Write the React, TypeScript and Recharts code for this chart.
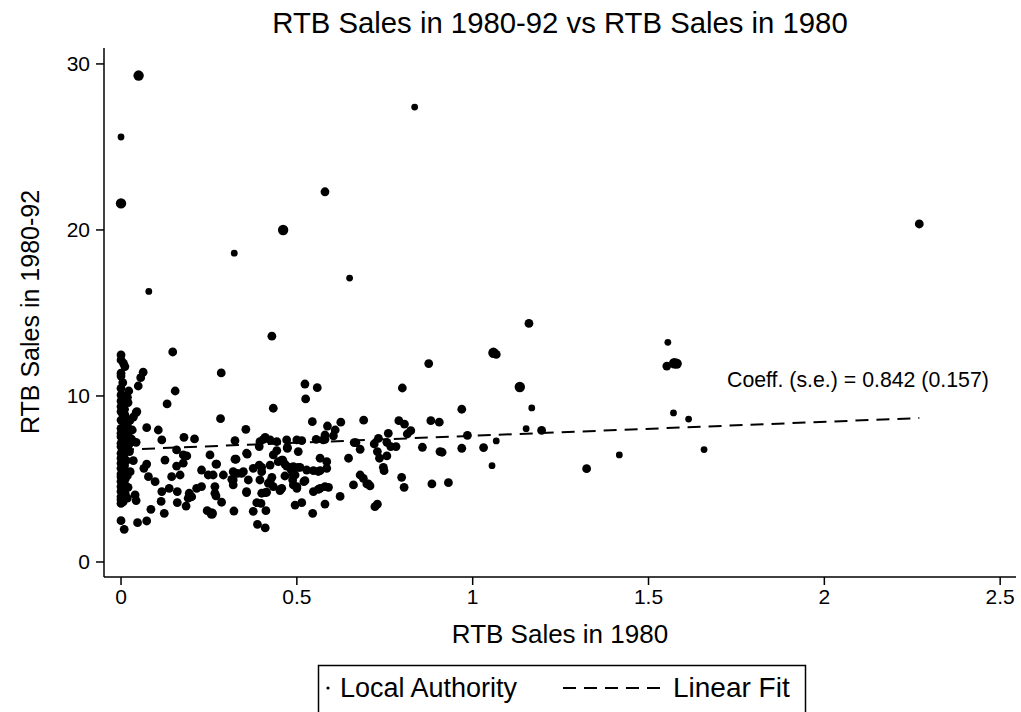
import React from 'react';
import { ScatterChart, Scatter, XAxis, YAxis } from 'recharts';

// [RTB sales 1980, RTB sales 1980-92, marker weight]
type Row = [number, number, number];

const zeroColumn: Row[] = [
  [0.05, 29.3, 3], [0, 25.6, 1], [0, 21.6, 3],
  [0, 12.47, 2], [0, 12.17, 2], [0.007, 11.97, 2], [0.011, 11.77, 2], [0, 11.37, 2],
  [0, 11.2, 2], [0, 10.46, 2], [0, 10.06, 2], [0.011, 10.0, 2], [0.016, 9.92, 3],
  [0, 9.7, 2], [0.005, 9.5, 2], [0, 9.36, 2], [0.01, 9.2, 2], [0, 9.06, 2],
  [0.045, 9.06, 2], [0.011, 8.86, 2], [0.043, 9.0, 2], [0.035, 8.72, 2], [0.026, 8.55, 2],
  [0, 8.55, 2], [0.008, 8.4, 2], [0.018, 8.25, 2], [0, 8.05, 2], [0.032, 7.95, 2],
  [0.012, 7.9, 2], [0, 7.75, 2], [0.02, 7.65, 2], [0, 7.55, 2], [0.011, 7.35, 2],
  [0.03, 7.4, 2], [0.043, 7.21, 2], [0, 7.15, 2], [0.022, 7.05, 2], [0, 6.95, 2],
  [0.012, 6.8, 2], [0.024, 6.65, 2], [0, 6.55, 2], [0.008, 6.4, 2], [0, 6.25, 2],
  [0.035, 6.1, 2], [0.015, 6.1, 2], [0, 5.95, 2], [0.01, 5.8, 2], [0, 5.64, 2],
  [0.026, 5.44, 2], [0.008, 5.5, 2], [0, 5.3, 2], [0, 5.14, 2], [0.012, 5.0, 2],
  [0, 4.85, 2], [0.01, 4.7, 2], [0, 4.54, 2], [0.008, 4.4, 2], [0, 4.25, 2],
  [0.012, 4.1, 2], [0, 3.93, 2], [0.04, 4.04, 2], [0.043, 3.7, 2], [0, 3.75, 2],
  [0, 3.53, 2], [0, 2.49, 2], [0.009, 1.97, 2], [0.047, 2.37, 2], [0.073, 2.47, 2],
  [0.004, 8.95, 2], [0.02, 9.6, 2], [0.004, 7.0, 2], [0.006, 6.0, 2], [0.018, 5.2, 2],
  [0.02, 4.5, 2], [0.006, 3.62, 2], [0.018, 3.85, 2], [0.022, 10.3, 2], [0.005, 10.8, 2],
];

const nearLeft: Row[] = [
  [0.079, 16.3, 1], [0.147, 12.65, 2], [0.063, 11.43, 2], [0.056, 11.1, 2], [0.049, 10.6, 2],
  [0.154, 10.3, 2], [0.131, 9.52, 2], [0.073, 8.09, 2], [0.106, 7.95, 2], [0.179, 7.51, 2],
  [0.209, 7.41, 2], [0.116, 7.35, 2], [0.158, 6.75, 2], [0.187, 6.39, 2], [0.177, 6.45, 2],
  [0.125, 6.14, 2], [0.158, 5.78, 2], [0.177, 5.95, 2], [0.073, 5.9, 2], [0.065, 5.64, 2],
  [0.078, 5.14, 2], [0.097, 4.84, 2], [0.144, 5.14, 2], [0.168, 5.24, 2], [0.229, 5.54, 2],
  [0.253, 6.45, 2], [0.27, 5.9, 2], [0.248, 5.24, 2], [0.291, 5.24, 2], [0.229, 4.54, 2],
  [0.215, 4.44, 2], [0.194, 4.14, 2], [0.201, 3.93, 2], [0.191, 3.84, 2], [0.116, 4.24, 2],
  [0.114, 3.65, 2], [0.137, 4.44, 2], [0.16, 4.24, 2], [0.16, 3.58, 2], [0.185, 3.37, 2],
  [0.085, 3.17, 2], [0.123, 2.93, 2], [0.245, 3.09, 2], [0.258, 2.92, 3], [0.267, 4.54, 2],
  [0.267, 4.14, 2], [0.27, 3.98, 2], [0.286, 3.6, 2], [0.285, 11.39, 2], [0.283, 8.63, 2],
  [0.262, 5.24, 2], [0.272, 5.9, 2],
];

const midCluster: Row[] = [
  [0.322, 18.6, 1], [0.429, 13.6, 2], [0.461, 20.0, 3], [0.58, 22.3, 2], [0.65, 17.1, 1],
  [0.835, 27.4, 1], [0.433, 9.26, 2], [0.355, 7.99, 2], [0.324, 7.31, 2], [0.324, 6.19, 2],
  [0.357, 6.55, 2], [0.405, 7.39, 2], [0.41, 7.51, 2], [0.395, 7.25, 2], [0.424, 7.35, 2],
  [0.443, 7.25, 2], [0.471, 7.35, 2], [0.473, 6.85, 2], [0.5, 7.35, 2], [0.514, 7.31, 2],
  [0.555, 7.39, 2], [0.58, 7.65, 2], [0.393, 6.95, 2], [0.443, 6.71, 2], [0.504, 6.65, 2],
  [0.359, 6.5, 2], [0.433, 6.45, 2], [0.376, 5.64, 2], [0.4, 5.7, 2], [0.424, 5.84, 2],
  [0.447, 6.04, 2], [0.457, 6.14, 2], [0.466, 5.9, 2], [0.481, 5.7, 2], [0.504, 5.7, 2],
  [0.528, 5.54, 2], [0.547, 5.5, 2], [0.566, 5.5, 2], [0.585, 5.64, 2], [0.566, 6.25, 2],
  [0.585, 6.04, 2], [0.319, 5.44, 2], [0.343, 5.34, 2], [0.393, 5.84, 2], [0.4, 5.44, 2],
  [0.319, 4.94, 2], [0.362, 4.94, 2], [0.395, 4.94, 2], [0.429, 5.1, 2], [0.466, 5.18, 2],
  [0.488, 4.94, 2], [0.523, 4.9, 2], [0.49, 4.64, 2], [0.5, 4.44, 2], [0.319, 4.64, 2],
  [0.357, 4.24, 2], [0.4, 4.14, 2], [0.41, 4.18, 2], [0.419, 4.74, 2], [0.454, 4.38, 2],
  [0.547, 4.24, 2], [0.566, 4.44, 2], [0.58, 4.54, 2], [0.386, 3.57, 2], [0.398, 3.53, 2],
  [0.495, 3.43, 2], [0.514, 3.57, 2], [0.58, 3.49, 2], [0.321, 3.07, 2], [0.376, 3.05, 2],
  [0.412, 3.09, 2], [0.545, 2.93, 2], [0.388, 2.27, 2], [0.41, 2.05, 2], [0.49, 5.74, 2],
  [0.495, 5.24, 2], [0.424, 4.84, 2], [0.483, 5.58, 2], [0.488, 5.3, 2], [0.457, 4.44, 2],
  [0.561, 4.38, 2], [0.433, 4.54, 2], [0.414, 4.2, 2], [0.46, 6.14, 2], [0.471, 5.78, 2],
  [0.509, 5.7, 2], [0.561, 5.45, 2], [0.575, 7.35, 2], [0.52, 4.84, 2], [0.5, 4.54, 2],
  [0.452, 4.3, 2], [0.357, 4.18, 2], [0.315, 4.98, 2], [0.331, 5.34, 2], [0.348, 5.44, 2],
  [0.327, 6.19, 2], [0.473, 6.91, 2],
];

const upperMid: Row[] = [
  [0.523, 10.72, 2], [0.558, 10.5, 2], [0.525, 9.82, 2], [0.8, 10.48, 2], [0.544, 8.45, 2],
  [0.587, 8.19, 2], [0.625, 8.42, 2], [0.69, 8.54, 2], [0.609, 7.95, 2], [0.604, 7.6, 2],
  [0.58, 7.39, 2], [0.79, 8.51, 2], [0.806, 8.31, 2], [0.824, 7.91, 2], [0.814, 7.71, 2],
  [0.881, 8.51, 2], [0.905, 8.42, 2], [0.663, 7.19, 2], [0.68, 6.79, 2], [0.72, 7.11, 2],
  [0.732, 7.45, 2], [0.76, 7.75, 2], [0.756, 7.21, 2], [0.767, 6.95, 2], [0.782, 6.95, 2],
  [0.729, 6.65, 2], [0.735, 6.25, 2], [0.756, 6.39, 2], [0.647, 6.25, 2], [0.746, 5.7, 2],
  [0.748, 5.5, 2], [0.68, 5.24, 2], [0.689, 5.04, 2], [0.798, 5.1, 2], [0.661, 4.64, 2],
  [0.699, 4.7, 2], [0.708, 4.58, 2], [0.59, 4.5, 2], [0.805, 4.5, 2], [0.884, 4.7, 2],
  [0.931, 4.78, 2], [0.623, 3.95, 2], [0.729, 3.48, 2], [0.722, 3.33, 2], [0.857, 6.91, 2],
  [0.907, 6.65, 2], [0.668, 7.19, 2], [0.703, 4.7, 2], [0.913, 6.61, 2],
];

const rightPoints: Row[] = [
  [0.875, 11.95, 2], [0.969, 9.2, 2], [1.059, 12.6, 3], [1.067, 12.5, 2], [1.16, 14.37, 2],
  [1.134, 10.54, 3], [1.168, 9.28, 1], [0.985, 7.63, 2], [1.152, 8.03, 1], [1.196, 7.93, 2],
  [0.969, 6.85, 2], [1.031, 6.89, 2], [1.067, 7.29, 1], [1.055, 5.8, 1], [1.324, 5.62, 2],
  [1.417, 6.45, 1], [1.555, 13.23, 1], [1.552, 11.8, 2], [1.573, 11.97, 3], [1.58, 11.95, 3],
  [1.571, 8.98, 1], [1.614, 8.61, 1], [1.658, 6.77, 1], [2.27, 20.36, 2],
];

const xTicks = [0, 0.5, 1, 1.5, 2, 2.5];
const yTicks = [0, 10, 20, 30];

// linear fit reported on the chart
const fitIntercept = 6.76;
const fitSlope = 0.842;
const fitSE = 0.157;

const FONT = '"Liberation Sans", Arial, sans-serif';
const RADIUS: Record<number, number> = { 1: 3.4, 2: 4.4, 3: 5.2 };

const points = [...zeroColumn, ...nearLeft, ...midCluster, ...upperMid, ...rightPoints].map(
  ([x, y, w]) => ({ x, y, w })
);
const xs = points.map((p) => p.x);
const fitLine = [Math.min(...xs), Math.max(...xs)].map((x) => ({
  x,
  y: fitIntercept + fitSlope * x,
}));

const Dot = (props: any) => {
  const { cx, cy } = props;
  const w = props.payload?.w ?? props.w ?? 2;
  if (cx == null || cy == null) return <g />;
  return <circle cx={cx} cy={cy} r={RADIUS[w]} fill="#000" />;
};

const tickStyle = { fontSize: 21, fill: '#000', fontFamily: FONT };

export default function App() {
  return (
    <div style={{ position: 'absolute', left: 0, top: 0, width: 1021, height: 712, background: '#fff' }}>
      <ScatterChart
        width={1021}
        height={712}
        margin={{ top: 48, right: 5, bottom: 75, left: 44 }}
      >
        <XAxis
          type="number"
          dataKey="x"
          domain={[-0.0484, 2.545]}
          ticks={xTicks}
          allowDataOverflow
          height={60}
          tickSize={8}
          tickMargin={4}
          axisLine={{ stroke: '#000', strokeWidth: 1.5 }}
          tickLine={{ stroke: '#000', strokeWidth: 1.5 }}
          tick={tickStyle}
        />
        <YAxis
          type="number"
          dataKey="y"
          domain={[-0.904, 30.96]}
          ticks={yTicks}
          allowDataOverflow
          width={60}
          tickSize={8}
          tickMargin={6}
          axisLine={{ stroke: '#000', strokeWidth: 1.5 }}
          tickLine={{ stroke: '#000', strokeWidth: 1.5 }}
          tick={tickStyle}
        />
        <Scatter data={points} shape={Dot} isAnimationActive={false} />
        <Scatter
          data={fitLine}
          line={{ stroke: '#000', strokeWidth: 2, strokeDasharray: '13 8' }}
          shape={() => <g />}
          isAnimationActive={false}
        />
      </ScatterChart>
      <svg
        width={1021}
        height={712}
        style={{ position: 'absolute', left: 0, top: 0, pointerEvents: 'none' }}
        fontFamily={FONT}
      >
        <text x={560} y={33} fontSize={29.3} textAnchor="middle">
          RTB Sales in 1980-92 vs RTB Sales in 1980
        </text>
        <text x={560} y={643} fontSize={26} textAnchor="middle">
          RTB Sales in 1980
        </text>
        <text
          x={0}
          y={0}
          fontSize={25}
          textAnchor="middle"
          transform="translate(39 312) rotate(-90)"
        >
          RTB Sales in 1980-92
        </text>
        <text x={727} y={387} fontSize={21.3}>
          {`Coeff. (s.e.) = ${fitSlope.toFixed(3)} (${fitSE.toFixed(3)})`}
        </text>
        <rect x={318.5} y={665.5} width={487} height={60} fill="none" stroke="#000" strokeWidth={1.5} />
        <circle cx={328} cy={688} r={1.6} fill="#000" />
        <text x={340} y={697} fontSize={27}>Local Authority</text>
        <line x1={563} y1={688} x2={665} y2={688} stroke="#000" strokeWidth={2} strokeDasharray="13 8" />
        <text x={673} y={697} fontSize={28}>Linear Fit</text>
      </svg>
    </div>
  );
}
